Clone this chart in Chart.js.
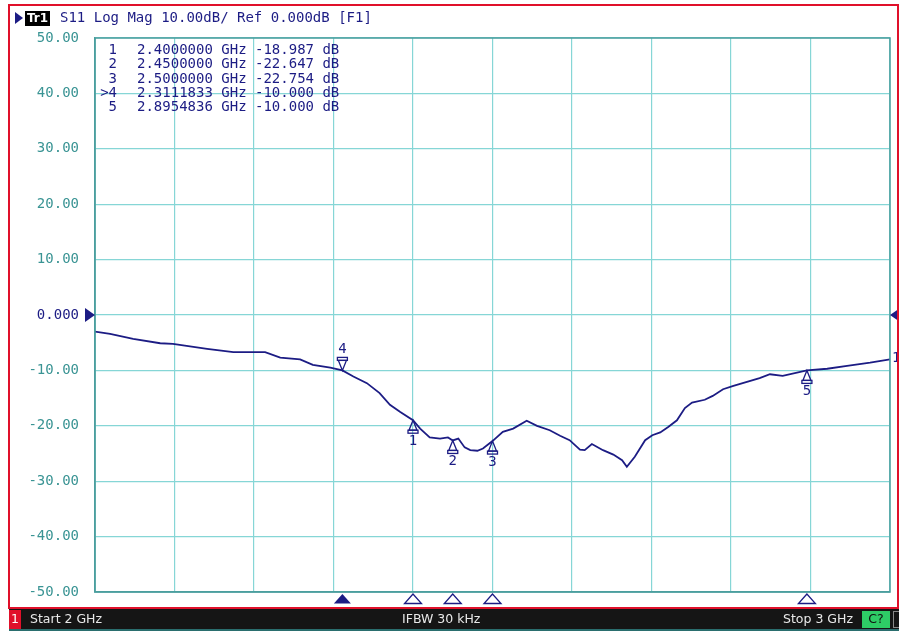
<!DOCTYPE html>
<html>
<head>
<meta charset="utf-8">
<script src="https://cdn.jsdelivr.net/npm/chart.js@4.4.1/dist/chart.umd.min.js"></script>
<style>
html, body { margin: 0; padding: 0; background: #fff; }
#wrap { width: 899px; height: 631px; position: relative; }
</style>
</head>
<body>
<div id="wrap"><canvas id="s11Chart"></canvas></div>
<script>
// S11 trace
const freqGHz = [2.000, 2.019, 2.048, 2.082, 2.098, 2.141, 2.174, 2.214, 2.233, 2.258,
    2.274, 2.296, 2.3111833, 2.325, 2.342, 2.358, 2.371, 2.384, 2.400, 2.409,
    2.421, 2.434, 2.444, 2.450, 2.457, 2.465, 2.472, 2.481, 2.488, 2.500,
    2.513, 2.526, 2.543, 2.556, 2.572, 2.585, 2.597, 2.610, 2.616, 2.625,
    2.639, 2.652, 2.663, 2.669, 2.679, 2.692, 2.701, 2.711, 2.721, 2.732,
    2.742, 2.751, 2.767, 2.777, 2.790, 2.803, 2.836, 2.849, 2.865, 2.8954836,
    2.921, 2.946, 2.975, 3.000];
const s11Db = [-3.0, -3.4, -4.3, -5.1, -5.2, -6.1, -6.7, -6.7, -7.7, -8.0,
    -9.0, -9.5, -10.0, -11.1, -12.3, -14.1, -16.2, -17.5, -18.987, -20.5,
    -22.1, -22.3, -22.1, -22.647, -22.3, -23.9, -24.4, -24.5, -24.1, -22.754,
    -21.1, -20.5, -19.1, -20.0, -20.8, -21.8, -22.6, -24.3, -24.4, -23.3,
    -24.4, -25.2, -26.2, -27.4, -25.6, -22.6, -21.7, -21.2, -20.2, -19.0,
    -16.8, -15.8, -15.3, -14.6, -13.4, -12.8, -11.4, -10.7, -11.0, -10.0,
    -9.7, -9.2, -8.6, -8.0];

// Markers
const markerIds = ['1', '2', '3', '4', '5'];
const markerFreq = [2.4, 2.45, 2.5, 2.3111833, 2.8954836];
const markerDb = [-18.987, -22.647, -22.754, -10.0, -10.0];
const activeMarker = 3;

// Axis
const yTicks = [50, 40, 30, 20, 10, 0, -10, -20, -30, -40, -50];
const yTickLabels = ['50.00', '40.00', '30.00', '20.00', '10.00', '0.000',
    '-10.00', '-20.00', '-30.00', '-40.00', '-50.00'];
const refLevel = 0;

const NAVY = '#1c1c84';
const TEAL = '#3a9494';
const GRID = '#86d6d6';
const MONO = '14px "DejaVu Sans Mono", monospace';
const SANS = '12.5px "DejaVu Sans", sans-serif';

// Draws the analyzer furniture: header, marker table, marker flags, status bar
const analyzerOverlay = {
    id: 'analyzerOverlay',
    afterDatasetsDraw(chart) {
        const ctx = chart.ctx;
        const a = chart.chartArea;
        const xs = chart.scales.x;
        const ys = chart.scales.y;
        ctx.save();

        // plot border
        ctx.strokeStyle = '#4b9e9e';
        ctx.lineWidth = 1.5;
        ctx.strokeRect(a.left, a.top, a.right - a.left, a.bottom - a.top);

        // marker table
        ctx.font = MONO;
        ctx.fillStyle = NAVY;
        ctx.textBaseline = 'middle';
        markerIds.forEach((id, i) => {
            const yy = 50.5 + i * 14.2;
            ctx.textAlign = 'right';
            ctx.fillText((i === activeMarker ? '>' : '') + id, 117, yy);
            ctx.textAlign = 'left';
            ctx.fillText(markerFreq[i].toFixed(7) + ' GHz ' + markerDb[i].toFixed(3) + ' dB', 137, yy);
        });

        // marker flags on the trace
        ctx.lineWidth = 1.3;
        ctx.strokeStyle = NAVY;
        ctx.textAlign = 'center';
        markerIds.forEach((id, i) => {
            const px = xs.getPixelForValue(markerFreq[i]);
            const py = ys.getPixelForValue(markerDb[i]);
            const dir = i === activeMarker ? -1 : 1;
            ctx.beginPath();
            ctx.moveTo(px, py);
            ctx.lineTo(px - 4, py + dir * 10);
            ctx.lineTo(px + 4, py + dir * 10);
            ctx.closePath();
            ctx.stroke();
            ctx.strokeRect(px - 5, py + dir * 10 - (dir < 0 ? 3 : 0), 10, 3);
            ctx.fillText(id, px, py + dir * 21);

            // flags under the plot
            const by = a.bottom + 2;
            ctx.beginPath();
            ctx.moveTo(px, by);
            ctx.lineTo(px - 8.5, by + 9.5);
            ctx.lineTo(px + 8.5, by + 9.5);
            ctx.closePath();
            if (i === activeMarker) {
                ctx.fillStyle = NAVY;
                ctx.fill();
            } else {
                ctx.stroke();
            }
        });

        // trace number at the right end
        ctx.textAlign = 'left';
        ctx.fillText('1', a.right + 2, ys.getPixelForValue(s11Db[s11Db.length - 1]) - 1);

        // reference level arrows
        const ry = ys.getPixelForValue(refLevel);
        ctx.beginPath();
        ctx.moveTo(a.left - 10, ry - 7);
        ctx.lineTo(a.left, ry);
        ctx.lineTo(a.left - 10, ry + 7);
        ctx.closePath();
        ctx.fill();
        ctx.beginPath();
        ctx.moveTo(a.right + 10, ry - 7);
        ctx.lineTo(a.right, ry);
        ctx.lineTo(a.right + 10, ry + 7);
        ctx.closePath();
        ctx.fill();

        // header
        ctx.beginPath();
        ctx.moveTo(15, 12);
        ctx.lineTo(23, 18);
        ctx.lineTo(15, 24);
        ctx.closePath();
        ctx.fill();
        ctx.fillStyle = '#000';
        ctx.fillRect(25, 11, 25, 15);
        ctx.fillStyle = '#fff';
        ctx.font = 'bold 12px "DejaVu Sans", sans-serif';
        ctx.textAlign = 'center';
        ctx.fillText('Tr1', 37.5, 18.5);
        ctx.font = MONO;
        ctx.fillStyle = NAVY;
        ctx.textAlign = 'left';
        ctx.fillText('S11 Log Mag 10.00dB/ Ref 0.000dB [F1]', 60, 18);

        // outer frame
        ctx.strokeStyle = '#e0102a';
        ctx.lineWidth = 2;
        ctx.strokeRect(9, 5, 889, 603);

        // status bar
        ctx.fillStyle = '#151515';
        ctx.fillRect(9, 609, 890, 20);
        ctx.fillStyle = '#2a6e6e';
        ctx.fillRect(9, 629, 890, 2);
        ctx.fillStyle = '#e0102a';
        ctx.fillRect(9, 610, 12, 19);
        ctx.fillStyle = '#fff';
        ctx.font = SANS;
        ctx.textAlign = 'center';
        ctx.fillText('1', 15, 620);
        ctx.fillStyle = '#e8e8e8';
        ctx.textAlign = 'left';
        ctx.fillText('Start 2 GHz', 30, 620);
        ctx.fillText('IFBW 30 kHz', 402, 620);
        ctx.textAlign = 'right';
        ctx.fillText('Stop 3 GHz', 853, 620);
        ctx.fillStyle = '#2ecc66';
        ctx.fillRect(862, 611, 28, 17);
        ctx.fillStyle = '#111';
        ctx.textAlign = 'center';
        ctx.fillText('C?', 876, 620);
        ctx.strokeStyle = '#888';
        ctx.lineWidth = 1;
        ctx.strokeRect(893.5, 611.5, 6, 16);

        ctx.restore();
    }
};

const chartEl = document.getElementById('s11Chart');
new Chart(chartEl, {
    type: 'line',
    data: {
        datasets: [{
            label: 'S11',
            data: freqGHz.map((f, i) => ({ x: f, y: s11Db[i] })),
            borderColor: NAVY,
            borderWidth: 1.8,
            pointRadius: 0,
            tension: 0,
            fill: false
        }]
    },
    options: {
        responsive: true,
        maintainAspectRatio: false,
        animation: false,
        layout: {
            padding: { top: 38, right: 9, bottom: 39, left: 0 }
        },
        scales: {
            x: {
                type: 'linear',
                min: 2,
                max: 3,
                ticks: { display: false, stepSize: 0.1 },
                grid: { color: GRID, lineWidth: 1.2, drawTicks: false },
                border: { color: '#4b9e9e', width: 1.5 },
                afterFit(scale) { scale.height = 0; }
            },
            y: {
                min: -50,
                max: 50,
                afterBuildTicks(scale) {
                    scale.ticks = yTicks.map(v => ({ value: v }));
                },
                ticks: {
                    padding: 16,
                    font: { family: '"DejaVu Sans Mono", monospace', size: 14 },
                    color: ctx => (ctx.tick && ctx.tick.value === refLevel) ? NAVY : TEAL,
                    callback: value => {
                        const k = yTicks.indexOf(value);
                        return k >= 0 ? yTickLabels[k] : '';
                    }
                },
                grid: { color: GRID, lineWidth: 1.2, drawTicks: false },
                border: { color: '#4b9e9e', width: 1.5 },
                afterFit(scale) { scale.width = 95; }
            }
        },
        plugins: {
            legend: { display: false },
            tooltip: { enabled: false }
        }
    },
    plugins: [analyzerOverlay]
});
</script>
</body>
</html>
